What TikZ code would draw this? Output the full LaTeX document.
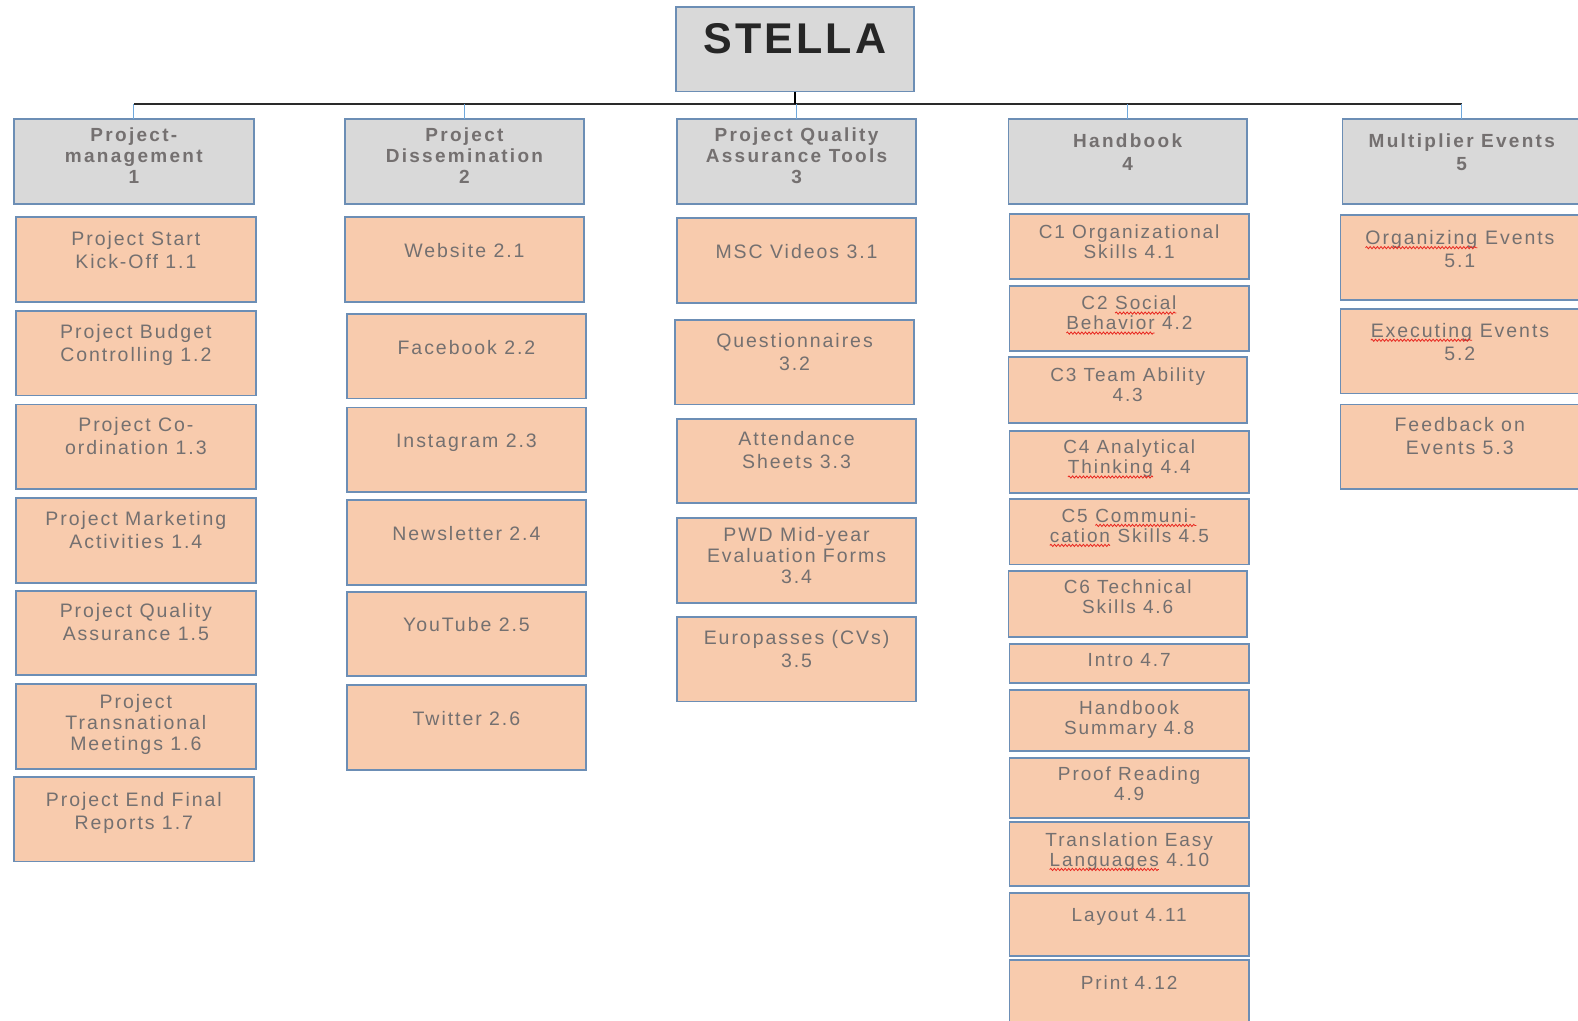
\documentclass[tikz,border=0pt]{standalone}
\usepackage{fontspec}
\setmainfont{Liberation Sans}
\newfontfamily\bodyf[LetterSpace=10]{Liberation Sans}
\newfontfamily\headf[LetterSpace=12]{Liberation Sans}
\newfontfamily\rootf[LetterSpace=7]{Liberation Sans}
\usetikzlibrary{calc,decorations.pathmorphing}
\definecolor{peach}{HTML}{F8CBAD}
\definecolor{hdr}{HTML}{D9D9D9}
\definecolor{bord}{HTML}{6C8EB5}
\definecolor{tickc}{HTML}{6FA8DC}
\definecolor{txt}{HTML}{747070}
\definecolor{rootc}{HTML}{262626}
\definecolor{barc}{HTML}{2A2A2A}
\definecolor{sqred}{HTML}{E8261F}
\tikzset{
  boxbase/.style={rectangle, draw=bord, line width=1.8pt, inner sep=0pt, outer sep=0pt},
  wbox/.style={boxbase, fill=peach},
  hbox/.style={boxbase, fill=hdr},
  wtxt/.style={inner sep=0pt, outer sep=0pt, anchor=north, align=center, text=txt},
  tickline/.style={draw=tickc, line width=1.3pt},
  barline/.style={draw=barc, line width=2pt},
  sqline/.style={draw=sqred, line width=0.8pt, decorate, decoration={snake, amplitude=1.1pt, segment length=3.6pt}}
}
% wavy spell-check underline
\newcommand\sq[1]{\tikz[baseline=(sqw.base)]{\node[inner sep=0pt,outer sep=0pt,anchor=base] (sqw) {#1};\draw[sqline] ([yshift=-3.2pt]sqw.base west) -- ([yshift=-3.2pt]sqw.base east);}}
\def\bsz{19.5}
% work box: name x1 y1 x2 y2 c bls text
\newcommand\wb[8]{%
  \node[wbox, minimum width={(#4-#2)*1.0064pt}, minimum height={(#5-#3)*1.0064pt}] (#1) at ({(#2+#4)/2},{(#3+#5)/2}) {};
  \node[wtxt, font=\bodyf\fontsize{\bsz pt}{#7pt}\selectfont] (#1t) at ($(#1.north)+(0,#6-8.5)$) {\rule{0pt}{15.5pt}#8};
}
% header box
\newcommand\hb[8]{%
  \node[hbox, minimum width={(#4-#2)*1.0064pt}, minimum height={(#5-#3)*1.0064pt}] (#1) at ({(#2+#4)/2},{(#3+#5)/2}) {};
  \node[wtxt, font=\headf\bfseries\fontsize{19pt}{#7pt}\selectfont] (#1t) at ($(#1.north)+(0,#6-7.6)$) {\rule{0pt}{14.5pt}#8};
}
\begin{document}
\begin{tikzpicture}[x=1.0064pt, y=-1.0064pt]
\useasboundingbox (0,0) rectangle (1568,1014);
\clip (0,0) rectangle (1568,1014);
\fill[white] (0,0) rectangle (1568,1014);

% root
\node[hbox, minimum width={236*1.0064pt}, minimum height={84*1.0064pt}] (root) at (790,49) {};
\node[anchor=base, inner sep=0pt, text=rootc, font=\rootf\bfseries\fontsize{43pt}{50pt}\selectfont] (roott) at ($(root.north)+(0,46)$) {STELLA};

% headers
\hb{h1}{14}{118}{252}{203}{16}{21}{Project-\\management\\1}
\hb{h2}{343}{118}{580}{203}{16}{21}{Project\\Dissemination\\2}
\hb{h3}{673}{118}{910}{203}{16}{21}{Project Quality\\Assurance Tools\\3}
\hb{h4}{1002}{118}{1239}{203}{22}{23}{Handbook\\4}
\hb{h5}{1334}{118}{1571}{203}{22}{23}{Multiplier Events\\5}

% connectors
\coordinate (bar) at (0,103);
\draw[barline] (h1.north |- bar) -- (h5.north |- bar);
\draw[draw=black, line width=1.5pt] (root.south) -- (root.south |- bar);
\foreach \h in {h1,h2,h3,h4,h5} {\draw[tickline] (\h.north) -- (\h.north |- bar);}

% column 1
\wb{b11}{16}{216}{254}{300}{21}{23}{Project Start\\Kick-Off 1.1}
\wb{b12}{16}{309}{254}{393}{20}{23}{Project Budget\\Controlling 1.2}
\wb{b13}{16}{402}{254}{486}{20}{23}{Project Co-\\ordination 1.3}
\wb{b14}{16}{495}{254}{579}{20}{23}{Project Marketing\\Activities 1.4}
\wb{b15}{16}{587}{254}{671}{20}{23}{Project Quality\\Assurance 1.5}
\wb{b16}{16}{680}{254}{764}{17}{21}{Project\\Transnational\\Meetings 1.6}
\wb{b17}{14}{772}{252}{856}{22}{23}{Project End Final\\Reports 1.7}

% column 2
\wb{b21}{343}{216}{580}{300}{33}{23}{Website 2.1}
\wb{b22}{345}{312}{582}{396}{33}{23}{Facebook 2.2}
\wb{b23}{345}{405}{582}{489}{33}{23}{Instagram 2.3}
\wb{b24}{345}{497}{582}{581}{33}{23}{Newsletter 2.4}
\wb{b25}{345}{588}{582}{672}{33}{23}{YouTube 2.5}
\wb{b26}{345}{681}{582}{765}{33}{23}{Twitter 2.6}

% column 3
\wb{b31}{673}{217}{910}{301}{33}{23}{MSC Videos 3.1}
\wb{b32}{671}{318}{908}{402}{20}{23}{Questionnaires\\3.2}
\wb{b33}{673}{416}{910}{500}{20}{23}{Attendance\\Sheets 3.3}
\wb{b34}{673}{515}{910}{599}{16}{21}{PWD Mid-year\\Evaluation Forms\\3.4}
\wb{b35}{673}{613}{910}{697}{21}{23}{Europasses (CVs)\\3.5}

% column 4
\def\bsz{19}
\wb{b41}{1003}{213}{1241}{277}{17}{20}{C1 Organizational\\Skills 4.1}
\wb{b42}{1003}{284}{1241}{349}{17}{20}{C2 \sq{Social}\\\sq{Behavior} 4.2}
\wb{b43}{1002}{355}{1239}{420}{17}{20}{C3 Team Ability\\4.3}
\wb{b44}{1003}{428}{1241}{490}{16}{20}{C4 Analytical\\\sq{Thinking} 4.4}
\wb{b45}{1003}{496}{1241}{561}{16}{20}{C5 \sq{Communi-}\\\sq{cation} Skills 4.5}
\wb{b46}{1002}{567}{1239}{633}{16}{20}{C6 Technical\\Skills 4.6}
\wb{b47}{1003}{640}{1241}{679}{15}{20}{Intro 4.7}
\wb{b48}{1003}{686}{1241}{746}{17}{20}{Handbook\\Summary 4.8}
\wb{b49}{1003}{753}{1241}{813}{16}{20}{Proof Reading\\4.9}
\wb{b410}{1003}{817}{1241}{880}{17}{20}{Translation Easy\\\sq{Languages} 4.10}
\wb{b411}{1003}{887}{1241}{950}{22}{20}{Layout 4.11}
\wb{b412}{1003}{954}{1241}{1030}{22}{20}{Print 4.12}

% column 5
\def\bsz{19.5}
\wb{b51}{1332}{214}{1569}{298}{22}{23}{\sq{Organizing} Events\\5.1}
\wb{b52}{1332}{307}{1569}{391}{21}{23}{\sq{Executing} Events\\5.2}
\wb{b53}{1332}{402}{1569}{486}{20}{23}{Feedback on\\Events 5.3}
\end{tikzpicture}
\end{document}
